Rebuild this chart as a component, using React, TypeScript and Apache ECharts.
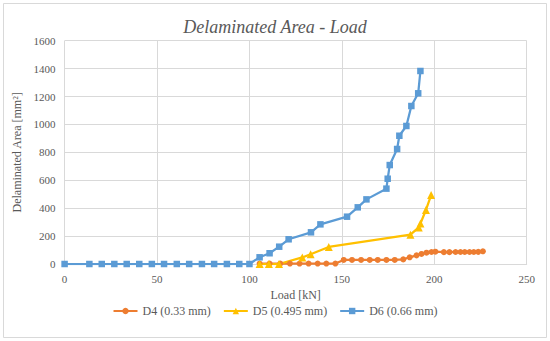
import React, { useEffect, useRef } from "react";
import * as echarts from "echarts";

const xTicks = [0, 50, 100, 150, 200, 250];
const yTicks = [0, 200, 400, 600, 800, 1000, 1200, 1400, 1600];

const seriesNames = ["D4 (0.33 mm)", "D5 (0.495 mm)", "D6 (0.66 mm)"];

const d4Load = [105.5, 110.9, 116.7, 121.9, 127.1, 132, 136.9, 141.6, 146.5, 151, 155.5, 160.4, 165.1, 169.4, 174.1, 178.6, 183.2, 186.7, 190.4, 193.1, 195.8, 198.5, 200.6, 205.2, 208.2, 211.5, 214.2, 216.5, 219.1, 221.4, 223.8, 226.3];
const d4Area = [3, 3, 3, 3, 3, 3, 3, 3, 3, 29, 29, 29, 29, 29, 29, 29, 33, 48, 62, 72, 81, 86, 88, 85, 85, 86, 86, 86, 86, 86, 87, 91];

const d5Load = [105.5, 110.5, 116, 128.6, 133.1, 142.9, 187.1, 191.6, 192.5, 195.5, 198.3];
const d5Area = [0, 0, 0, 47, 70, 122, 210, 262, 290, 387, 494];

const d6Load = [0, 13.4, 20.1, 26.9, 33.6, 40.4, 47.2, 53.8, 60.7, 67.4, 74.3, 80.9, 87.8, 94.5, 100, 105.5, 110.9, 116.1, 121.2, 133.3, 138.4, 152.8, 158.6, 163.3, 174.1, 174.8, 175.9, 179.9, 181.1, 184.9, 187.6, 191.3, 192.5];
const d6Area = [0, 0, 0, 0, 0, 0, 0, 0, 0, 0, 0, 0, 0, 0, 0, 48, 77, 124, 177, 227, 284, 339, 406, 463, 540, 611, 709, 824, 919, 989, 1132, 1223, 1383];

const colors = ["#ED7D31", "#FFC000", "#5B9BD5"];
const FONT = "'Times New Roman', 'Liberation Serif', serif";

function zip(xs: number[], ys: number[]) {
  return xs.map((x, i) => [x, ys[i]]);
}

export default function App() {
  const ref = useRef<HTMLDivElement>(null);
  useEffect(() => {
    if (!ref.current) return;
    const chart = echarts.init(ref.current, undefined, { renderer: "svg" });
    chart.setOption({
      animation: false,
      backgroundColor: "#ffffff",
      color: colors,
      textStyle: { fontFamily: FONT },
      title: {
        text: "Delaminated Area - Load",
        left: "center",
        top: 13,
        textStyle: { fontFamily: FONT, fontSize: 18, fontStyle: "italic", fontWeight: "normal", color: "#595959" },
      },
      graphic: [
        {
          type: "rect",
          shape: { x: 3.5, y: 3.5, width: 543, height: 334 },
          style: { fill: "none", stroke: "#D9D9D9", lineWidth: 1 },
          silent: true,
        },
      ],
      legend: {
        top: 300,
        left: "center",
        itemWidth: 24,
        itemHeight: 8,
        itemGap: 12,
        textStyle: { fontFamily: FONT, fontSize: 12, color: "#595959" },
        data: seriesNames,
      },
      grid: { left: 64.6, right: 23.3, top: 40.7, bottom: 77 },
      xAxis: {
        type: "value",
        min: xTicks[0],
        max: xTicks[xTicks.length - 1],
        interval: 50,
        name: "Load [kN]",
        nameLocation: "middle",
        nameGap: 21,
        nameTextStyle: { fontFamily: FONT, fontSize: 12, color: "#595959" },
        axisLine: { show: true, lineStyle: { color: "#D9D9D9" } },
        axisTick: { show: false },
        axisLabel: { fontFamily: FONT, fontSize: 11, color: "#595959", margin: 9, formatter: (v: number) => String(v) },
        splitLine: { show: true, lineStyle: { color: "#D9D9D9" } },
      },
      yAxis: {
        type: "value",
        min: yTicks[0],
        max: yTicks[yTicks.length - 1],
        interval: 200,
        name: "Delaminated Area [mm²]",
        nameLocation: "middle",
        nameGap: 30,
        nameTextStyle: { fontFamily: FONT, fontSize: 12, color: "#595959" },
        axisLine: { show: false },
        axisTick: { show: false },
        axisLabel: { fontFamily: FONT, fontSize: 11, color: "#595959", margin: 9, formatter: (v: number) => String(v) },
        splitLine: { show: true, lineStyle: { color: "#D9D9D9" } },
      },
      series: [
        {
          name: seriesNames[0],
          type: "line",
          data: zip(d4Load, d4Area),
          symbol: "circle",
          symbolSize: 6,
          lineStyle: { width: 2.25 },
          itemStyle: { color: colors[0] },
        },
        {
          name: seriesNames[1],
          type: "line",
          data: zip(d5Load, d5Area),
          symbol: "triangle",
          symbolSize: 8,
          lineStyle: { width: 2.25 },
          itemStyle: { color: colors[1] },
        },
        {
          name: seriesNames[2],
          type: "line",
          data: zip(d6Load, d6Area),
          symbol: "rect",
          symbolSize: 6.5,
          lineStyle: { width: 2.25 },
          itemStyle: { color: colors[2] },
        },
      ],
    });
    return () => chart.dispose();
  }, []);
  return <div ref={ref} style={{ width: 550, height: 341, position: "absolute", left: 0, top: 0 }} />;
}
